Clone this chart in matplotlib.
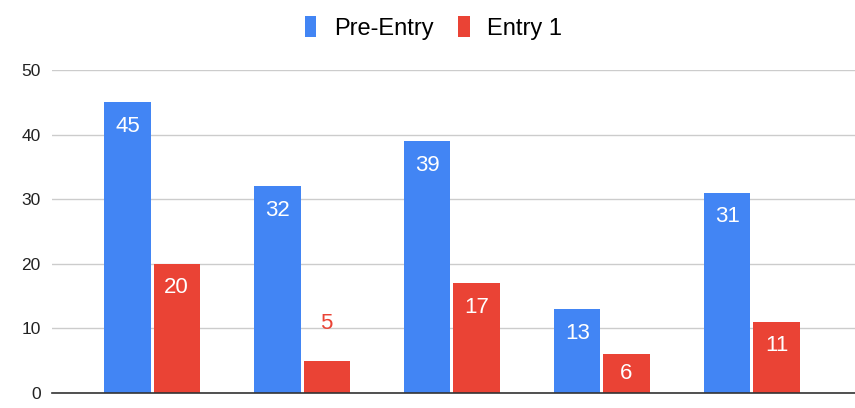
import matplotlib
matplotlib.use("Agg")
import matplotlib.pyplot as plt
import numpy as np

plt.rcParams['font.family'] = ['Liberation Sans', 'DejaVu Sans']

groups = ["1", "2", "3", "4", "5"]
pre_entry = [45, 32, 39, 13, 31]
entry_1 = [20, 5, 17, 6, 11]
series_names = ["Pre-Entry", "Entry 1"]
y_ticks = [0, 10, 20, 30, 40, 50]

blue = "#4285F4"
red = "#EA4335"

fig = plt.figure(figsize=(8.55, 4.08), dpi=100)
ax = fig.add_axes([0.0608, 0.0368, 0.9392, 0.7917])

x = np.arange(len(groups))
w = 0.307
gap = 0.01
b1 = ax.bar(x - w / 2 - gap, pre_entry, w, color=blue, label=series_names[0], zorder=3)
b2 = ax.bar(x + w / 2 + gap, entry_1, w, color=red, label=series_names[1], zorder=3)

ax.set_xlim(-0.667, 4.687)
ax.set_ylim(0, 50)

# data units per pixel, used to place value labels a fixed distance below bar tops
ax_h_px = fig.get_figheight() * fig.dpi * 0.7917
units_per_px = 50 / ax_h_px


def label_bars(bars, values, color):
    for bar, v in zip(bars, values):
        cx = bar.get_x() + bar.get_width() / 2
        if v >= 6:
            yc = max(v / 2, v - 24 * units_per_px)
            ax.text(cx, yc, str(v), ha="center", va="center", color="white",
                    fontsize=16, zorder=4)
        else:
            ax.annotate(str(v), (cx, v), xytext=(0, 27), textcoords="offset points",
                        ha="center", va="center", color=color, fontsize=16, zorder=4)


label_bars(b1, pre_entry, blue)
label_bars(b2, entry_1, red)

ax.set_yticks(y_ticks)
ax.set_yticklabels([str(t) for t in y_ticks], fontsize=12.5, color="#222222")
ax.set_xticks([])
ax.tick_params(axis="y", length=0, pad=8)
ax.grid(axis="y", color="#cccccc", linewidth=1, zorder=0)
for s in ["top", "right", "left"]:
    ax.spines[s].set_visible(False)
ax.spines["bottom"].set_color("#333333")
ax.spines["bottom"].set_linewidth(1.2)
ax.spines["bottom"].set_zorder(5)

fig.legend(loc="center", bbox_to_anchor=(0.507, 0.931), ncol=2, frameon=False,
           fontsize=17, handlelength=0.48, handleheight=1.0, handletextpad=0.75,
           columnspacing=1.05)

fig.savefig("out.png", dpi=100)
